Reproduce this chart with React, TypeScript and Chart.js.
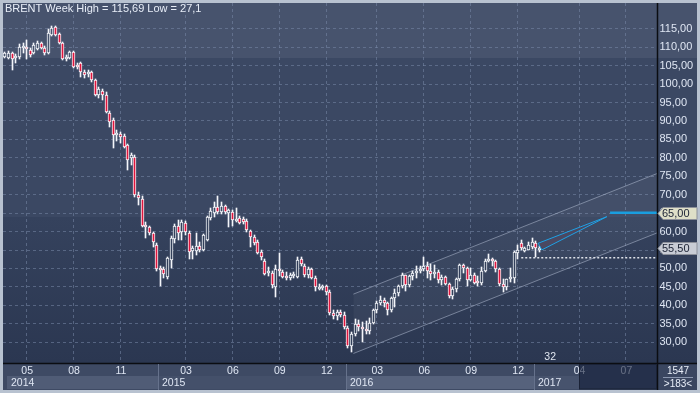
import React, { useEffect, useRef } from 'react';
import { Chart, registerables, BarController } from 'chart.js';

Chart.register(...registerables);

// Bar controller that snaps bars to whole device pixels (crisp candles)
class SnapBarController extends (BarController as any) {
  updateElements(bars: any[], start: number, count: number, mode: any) {
    super.updateElements(bars, start, count, mode);
    for (let i = start; i < start + count; i++) {
      const b = bars[i];
      if (!b) continue;
      b.x = Math.floor(b.x) + 0.5;
      b.y = Math.round(b.y);
      b.base = Math.round(b.base);
    }
  }
}
(SnapBarController as any).id = 'snapbar';
(SnapBarController as any).defaults = { ...(BarController as any).defaults };
(SnapBarController as any).overrides = (BarController as any).overrides;
Chart.register(SnapBarController as any);

// ---------- DATA (weekly Brent candles, week 0 = first visible bar) ----------
const weekOpen = [
  107.1, 107.0, 108.2, 106.9, 107.1, 109.6, 110.0, 109.1, 108.2, 109.3,
  110.9, 109.6, 108.2, 113.2, 115.3, 113.4, 110.9, 106.6, 106.9, 108.5,
  105.0, 105.5, 103.2, 102.6, 103.2, 101.0, 96.9, 98.0, 96.9, 92.1,
  90.1, 86.0, 86.3, 85.8, 83.3, 79.7, 80.2, 69.8, 68.7, 61.6,
  61.0, 59.4, 56.2, 49.9, 49.7, 47.6, 52.1, 57.8, 61.4, 59.7,
  62.1, 59.6, 54.5, 54.7, 55.9, 54.9, 57.6, 63.6, 65.0, 66.6,
  65.1, 66.8, 64.8, 65.3, 62.8, 63.6, 63.2, 62.7, 60.0, 58.3,
  57.1, 54.4, 52.0, 48.5, 48.7, 44.9, 49.7, 49.0, 47.9, 47.4,
  47.8, 47.6, 52.3, 50.6, 48.0, 49.6, 47.4, 44.4, 44.6, 45.1,
  43.6, 37.9, 36.9, 38.1, 37.3, 33.6, 28.9, 32.2, 34.7, 34.1,
  33.4, 33.0, 35.1, 38.7, 40.4, 41.2, 40.4, 38.7, 41.9, 43.1,
  45.1, 48.1, 45.4, 47.8, 48.7, 49.3, 49.6, 50.5, 49.2, 48.4,
  49.0, 46.8, 47.6, 45.7, 42.5, 44.3, 47.0, 50.9, 49.9, 46.8,
  48.0, 46.0, 45.9, 49.2, 51.9, 51.9, 51.8, 49.7, 45.6, 44.75,
  46.9, 47.2, 54.1, 56.7, 54.6, 55.0, 55.6, 56.7, 54.9,
];
const weekHigh = [
  108.7, 108.8, 108.5, 108.0, 110.7, 111.1, 111.8, 109.6, 111.0, 111.6,
  111.4, 110.2, 114.7, 115.69, 115.5, 113.8, 111.2, 107.7, 108.9, 108.8,
  105.5, 105.8, 103.7, 103.6, 103.5, 101.3, 99.2, 98.6, 97.8, 92.6,
  90.8, 87.5, 87.0, 86.3, 83.6, 81.2, 80.5, 70.6, 69.4, 62.4,
  61.5, 59.8, 56.8, 50.5, 50.2, 53.0, 58.8, 61.9, 63.0, 62.9,
  62.6, 60.1, 56.0, 59.4, 57.0, 59.3, 64.0, 66.2, 67.8, 69.6,
  68.0, 67.2, 66.0, 65.8, 66.2, 64.2, 63.8, 63.4, 60.4, 59.0,
  57.5, 54.8, 52.3, 50.2, 49.3, 50.8, 54.0, 49.5, 48.8, 48.7,
  48.9, 53.0, 53.1, 51.2, 50.3, 50.0, 47.9, 45.6, 45.5, 45.4,
  43.9, 38.5, 38.6, 38.5, 38.0, 34.2, 32.6, 36.2, 36.0, 35.3,
  35.6, 36.3, 38.9, 41.0, 42.5, 41.9, 40.8, 42.2, 44.2, 45.5,
  48.5, 48.2, 48.2, 49.3, 50.5, 50.6, 52.9, 51.7, 51.0, 50.8,
  49.4, 48.1, 47.8, 45.9, 44.9, 47.4, 51.2, 51.2, 50.2, 49.9,
  48.6, 47.7, 50.3, 52.4, 53.7, 52.6, 52.1, 50.0, 47.0, 47.0,
  49.9, 54.6, 56.2, 57.6, 55.7, 57.0, 58.0, 57.2, 56.0,
];
const weekLow = [
  106.9, 106.6, 103.7, 105.5, 106.8, 108.4, 106.6, 107.1, 107.9, 109.0,
  109.3, 107.8, 108.0, 112.9, 113.0, 110.7, 106.3, 106.0, 106.6, 104.3,
  104.0, 101.9, 101.4, 101.7, 100.5, 96.6, 96.0, 95.5, 92.0, 88.1,
  82.6, 84.5, 84.0, 82.5, 76.6, 78.0, 69.3, 67.1, 61.0, 58.2,
  59.0, 55.8, 49.2, 45.2, 47.3, 46.9, 50.0, 56.8, 57.6, 57.6,
  58.9, 52.5, 52.3, 53.5, 54.2, 54.5, 57.3, 63.0, 63.7, 64.5,
  64.5, 64.6, 61.2, 61.5, 62.5, 61.9, 62.0, 59.8, 55.8, 56.3,
  53.8, 52.1, 48.0, 47.8, 44.6, 42.2, 47.8, 47.2, 46.8, 46.8,
  47.3, 47.3, 50.6, 47.5, 47.2, 46.9, 43.8, 43.9, 43.9, 42.7,
  37.3, 36.1, 36.0, 36.6, 33.4, 28.2, 27.1, 31.6, 32.8, 30.0,
  32.2, 32.0, 34.8, 37.8, 39.9, 39.3, 37.3, 38.0, 39.5, 42.5,
  44.6, 43.7, 44.9, 46.8, 47.3, 48.5, 49.1, 47.3, 46.6, 47.2,
  45.9, 45.5, 45.3, 41.8, 41.5, 43.4, 46.5, 48.5, 45.0, 46.5,
  45.6, 45.1, 45.5, 48.8, 51.5, 50.5, 48.8, 45.1, 43.6, 44.1,
  46.2, 46.0, 52.3, 54.9, 54.2, 54.8, 55.2, 53.1, 54.4,
];
const weekClose = [
  108.4, 108.3, 106.6, 107.5, 110.0, 110.0, 109.5, 107.8, 110.5, 111.1,
  109.6, 108.4, 113.8, 115.0, 113.2, 110.9, 106.6, 107.3, 108.5, 104.6,
  104.6, 103.2, 102.3, 103.0, 101.0, 96.9, 98.4, 96.8, 92.4, 89.7,
  86.1, 86.4, 85.6, 82.9, 79.3, 80.6, 69.8, 68.9, 61.4, 61.2,
  59.6, 57.0, 49.6, 49.4, 48.3, 52.6, 58.0, 61.4, 59.6, 62.5,
  59.7, 54.2, 55.3, 55.9, 54.8, 58.9, 63.7, 65.4, 66.4, 65.3,
  66.8, 65.3, 65.6, 63.0, 63.4, 62.3, 62.4, 60.3, 58.3, 56.7,
  54.1, 53.1, 48.4, 48.9, 45.3, 49.6, 49.1, 47.6, 47.3, 48.2,
  48.3, 52.2, 51.2, 48.1, 49.6, 47.4, 44.7, 44.8, 45.1, 43.4,
  37.9, 36.9, 38.0, 37.3, 33.9, 28.9, 32.2, 34.7, 34.1, 33.4,
  33.0, 35.1, 38.7, 40.4, 41.2, 40.4, 38.7, 41.9, 43.1, 45.1,
  48.1, 45.4, 47.8, 48.7, 49.3, 49.6, 50.5, 49.2, 48.4, 49.0,
  46.8, 47.6, 45.7, 42.5, 44.3, 47.0, 50.9, 49.9, 46.8, 48.0,
  46.0, 45.9, 49.2, 51.9, 51.95, 51.8, 49.7, 45.6, 44.75, 46.9,
  47.2, 54.4, 54.8, 55.3, 55.3, 56.2, 57.1, 55.3, 55.5,
];

const priceTicks = [30, 35, 40, 45, 50, 55, 60, 65, 70, 75, 80, 85, 90, 95, 100, 105, 110, 115];
const monthTickWeeks = [6, 19, 32, 50, 63, 76, 89, 103, 116, 129, 142, 159, 172];
const monthTickLabels = ['05', '08', '11', '03', '06', '09', '12', '03', '06', '09', '12', '04', '07'];
const yearLabels = ['2014', '2015', '2016', '2017'];
const yearStartWeeks = [43, 95, 147];
const futureStartWeek = 159;

const channelWeeks = [96.5, 180.6];
const channelUpper = [42.9, 75.6];
const channelLower = [26.8, 59.5];
const wedgeWeeks = [147.7, 166.7, 148.7, 147.7];
const wedgeValues = [56.7, 63.9, 54.9, 56.7];
const targetWeeks = [167.6, 180.6];
const targetValue = 65.0;
const supportWeeks = [143, 180.6];
const supportValue = 52.8;
const priceTags = [65.0, 55.5];
const titleText = 'BRENT Week High = 115,69 Low = 27,1';
const weekNumberLabel = '32';
const totalBarsLabel = '1547';
const visibleBarsLabel = '>183<';

const X_MIN = -0.55;
const X_MAX = 180.6;
const Y_MIN = 24.22;
const Y_MAX = 121.86;

const FONT = '"Liberation Sans", Arial, sans-serif';
const fmt = (v: number) => v.toFixed(2).replace('.', ',');

const BAND_TOP = '#47536d';
const BAND_MID = '#3b4863';
const BAND_LOW = '#323f5a';

export default function App() {
  const ref = useRef<HTMLCanvasElement | null>(null);

  useEffect(() => {
    document.body.style.margin = '0';
    const canvas = ref.current;
    if (!canvas) return;

    const bandFrac1 = 0.154;
    const bandFrac2 = 0.594;

    const bgPlugin = {
      id: 'bgPanels',
      beforeDraw(chart: any) {
        const { ctx, chartArea: a, scales } = chart;
        const W = chart.width;
        const H = chart.height;
        const R = W - 3;
        const B = H - 3;
        ctx.save();
        ctx.fillStyle = '#b8c2d0';
        ctx.fillRect(0, 0, W, H);
        const h = a.bottom - a.top;
        const b1 = Math.round(a.top + h * bandFrac1);
        const b2 = Math.round(a.top + h * bandFrac2);
        ctx.fillStyle = BAND_TOP;
        ctx.fillRect(a.left, a.top, R - a.left, b1 - a.top);
        ctx.fillStyle = BAND_MID;
        ctx.fillRect(a.left, b1, R - a.left, b2 - b1);
        const g = ctx.createLinearGradient(0, b2, 0, a.bottom);
        g.addColorStop(0, '#35425d');
        g.addColorStop(1, '#2b3751');
        ctx.fillStyle = g;
        ctx.fillRect(a.left, b2, R - a.left, a.bottom - b2);

        // bottom time-axis area
        ctx.fillStyle = '#3e4a64';
        ctx.fillRect(a.left, a.bottom, R - a.left, B - a.bottom);
        const rowY = a.bottom + 13;
        const xs = scales.x;
        const bounds = [
          a.left + 4,
          ...yearStartWeeks.map((w) => Math.round(xs.getPixelForValue(w - 0.5))),
          Math.round(xs.getPixelForValue(futureStartWeek)),
        ];
        const yearCols = ['#505c76', '#44506a', '#56627c', '#47536d'];
        for (let i = 0; i < yearLabels.length; i++) {
          ctx.fillStyle = yearCols[i];
          ctx.fillRect(bounds[i], rowY, bounds[i + 1] - bounds[i], B - 1 - rowY);
        }
        ctx.fillStyle = '#3a4660';
        ctx.fillRect(a.right, a.bottom, R - a.right, B - a.bottom);

        // dashed grid
        ctx.strokeStyle = 'rgba(120,136,168,0.55)';
        ctx.lineWidth = 1;
        ctx.setLineDash([3, 3]);
        ctx.beginPath();
        for (const v of priceTicks) {
          const y = Math.round(scales.y.getPixelForValue(v)) + 0.5;
          ctx.moveTo(a.left, y);
          ctx.lineTo(a.right, y);
        }
        for (const w of monthTickWeeks) {
          const x = Math.floor(xs.getPixelForValue(w)) + 0.5;
          ctx.moveTo(x, a.top);
          ctx.lineTo(x, a.bottom);
        }
        ctx.stroke();
        ctx.setLineDash([]);
        ctx.restore();
      },
      afterDraw(chart: any) {
        const { ctx, chartArea: a, scales } = chart;
        const W = chart.width;
        const H = chart.height;
        const R = W - 3;
        const B = H - 3;
        const xs = scales.x;
        const ys = scales.y;
        ctx.save();
        ctx.textBaseline = 'middle';

        ctx.font = `11px ${FONT}`;
        ctx.fillStyle = '#e8eef8';
        ctx.textAlign = 'left';
        ctx.fillText(titleText, 5, 9);

        ctx.strokeStyle = '#0b0d12';
        ctx.lineWidth = 1.5;
        ctx.beginPath();
        ctx.moveTo(a.right + 0.5, a.top);
        ctx.lineTo(a.right + 0.5, B);
        ctx.moveTo(a.left, a.bottom + 0.5);
        ctx.lineTo(R, a.bottom + 0.5);
        ctx.stroke();

        ctx.fillStyle = '#dfe6f3';
        ctx.font = `11px ${FONT}`;
        for (const v of priceTicks) {
          ctx.fillText(fmt(v), a.right + 2.5, ys.getPixelForValue(v) + 0.5);
        }

        ctx.textAlign = 'center';
        ctx.font = `10.5px ${FONT}`;
        monthTickWeeks.forEach((w, i) => {
          ctx.fillText(monthTickLabels[i], xs.getPixelForValue(w) + 0.5, a.bottom + 8.5);
        });
        ctx.textAlign = 'left';
        const starts = [a.left + 4, ...yearStartWeeks.map((w) => Math.round(xs.getPixelForValue(w - 0.5)))];
        yearLabels.forEach((t, i) => ctx.fillText(t, starts[i] + 4, a.bottom + 20.5));
        ctx.strokeStyle = '#66728c';
        ctx.lineWidth = 1;
        ctx.beginPath();
        for (const w of yearStartWeeks) {
          const x = Math.round(xs.getPixelForValue(w - 0.5)) + 0.5;
          ctx.moveTo(x, a.bottom + 1);
          ctx.lineTo(x, B);
        }
        ctx.stroke();
        const fx = Math.round(xs.getPixelForValue(futureStartWeek));
        ctx.fillStyle = 'rgba(22,32,58,0.6)';
        ctx.fillRect(fx, a.bottom + 1.5, a.right - fx, B - a.bottom - 2.5);
        ctx.strokeStyle = '#1a2236';
        ctx.strokeRect(fx + 0.5, a.bottom + 1.5, a.right - fx - 1, B - a.bottom - 2.5);

        ctx.textAlign = 'center';
        ctx.fillStyle = '#e0e6f0';
        ctx.font = `10.5px ${FONT}`;
        ctx.fillText(weekNumberLabel, xs.getPixelForValue(151), a.bottom - 6);

        const cx = (a.right + R) / 2;
        ctx.fillStyle = '#e8eef8';
        ctx.font = `10px ${FONT}`;
        ctx.fillText(totalBarsLabel, cx + 1, a.bottom + 8);
        ctx.fillText(visibleBarsLabel, cx + 1, a.bottom + 21);
        ctx.strokeStyle = '#8a96ae';
        ctx.beginPath();
        ctx.moveTo(a.right + 6, a.bottom + 14.5);
        ctx.lineTo(R - 4, a.bottom + 14.5);
        ctx.stroke();

        const tagFills = ['#dedfc8', '#c8ccd5'];
        ctx.textAlign = 'left';
        ctx.font = `11px ${FONT}`;
        priceTags.forEach((v, i) => {
          const y = Math.round(ys.getPixelForValue(v)) + 0.5;
          const x0 = a.right + 1;
          ctx.beginPath();
          ctx.moveTo(x0, y);
          ctx.lineTo(x0 + 5, y - 6);
          ctx.lineTo(R, y - 6);
          ctx.lineTo(R, y + 6);
          ctx.lineTo(x0 + 5, y + 6);
          ctx.closePath();
          ctx.fillStyle = tagFills[i];
          ctx.fill();
          ctx.strokeStyle = '#8c909a';
          ctx.lineWidth = 1;
          ctx.stroke();
          ctx.fillStyle = '#1b2234';
          ctx.fillText(fmt(v), x0 + 4, y + 0.5);
        });
        ctx.restore();
      },
    };

    const upFill = (c: any) => {
      const i = c.dataIndex;
      const o = weekOpen[i];
      const cl = weekClose[i];
      if (cl < o) return '#e0163e';
      const chart = c.chart;
      const a = chart.chartArea;
      if (!a || !chart.scales || !chart.scales.y) return BAND_MID;
      const y = chart.scales.y.getPixelForValue((o + cl) / 2);
      const f = (y - a.top) / (a.bottom - a.top);
      return f < bandFrac1 ? BAND_TOP : f < bandFrac2 ? BAND_MID : BAND_LOW;
    };

    const wicks = weekHigh.map((h, i) => ({ x: i, y: [weekLow[i], h] }));
    const bodies = weekOpen.map((o, i) => ({ x: i, y: [Math.min(o, weekClose[i]), Math.max(o, weekClose[i])] }));
    const pts = (ws: number[], vs: number[]) => ws.map((w, i) => ({ x: w, y: vs[i] }));

    const chart = new Chart(canvas, {
      type: 'bar',
      data: {
        datasets: [
          {
            type: 'line',
            data: pts(channelWeeks, channelUpper),
            borderColor: 'rgba(175,186,208,0.55)',
            borderWidth: 1,
            pointRadius: 0,
            fill: false,
            order: 10,
          } as any,
          {
            type: 'line',
            data: pts(channelWeeks, channelLower),
            borderColor: 'rgba(175,186,208,0.55)',
            borderWidth: 1,
            pointRadius: 0,
            fill: '-1',
            backgroundColor: 'rgba(255,255,255,0.045)',
            order: 9,
          } as any,
          {
            type: 'snapbar',
            data: wicks,
            backgroundColor: '#f4f6fa',
            borderWidth: 0,
            barThickness: 1,
            grouped: false,
            order: 6,
          } as any,
          {
            type: 'snapbar',
            data: bodies,
            backgroundColor: upFill,
            borderColor: '#f4f6fa',
            borderWidth: 1,
            borderSkipped: false,
            barThickness: 3,
            minBarLength: 2,
            grouped: false,
            order: 5,
          } as any,
          {
            type: 'line',
            data: pts(supportWeeks, [supportValue, supportValue]),
            borderColor: '#dfe3ea',
            borderWidth: 1.5,
            borderDash: [2, 2],
            pointRadius: 0,
            fill: false,
            order: 3,
          } as any,
          {
            type: 'line',
            data: pts(wedgeWeeks, wedgeValues),
            borderColor: '#1ea2e6',
            borderWidth: 1,
            backgroundColor: '#4a4861',
            pointRadius: 0,
            fill: 'shape',
            order: 2,
          } as any,
          {
            type: 'line',
            data: pts(targetWeeks, [targetValue, targetValue]),
            borderColor: '#1a9edf',
            borderWidth: 2.5,
            pointRadius: 0,
            fill: false,
            order: 1,
          } as any,
        ],
      },
      options: {
        responsive: false,
        animation: false,
        devicePixelRatio: 1,
        events: [],
        layout: { padding: { left: 3, top: 3, right: 43, bottom: 30 } },
        plugins: { legend: { display: false }, tooltip: { enabled: false } },
        scales: {
          x: { type: 'linear', min: X_MIN, max: X_MAX, display: false, offset: false, grid: { offset: false } },
          y: { type: 'linear', min: Y_MIN, max: Y_MAX, display: false },
        },
      } as any,
      plugins: [bgPlugin],
    });

    return () => chart.destroy();
  }, []);

  return (
    <div style={{ width: 700, height: 393 }}>
      <canvas ref={ref} width={700} height={393} style={{ display: 'block', width: 700, height: 393 }} />
    </div>
  );
}
